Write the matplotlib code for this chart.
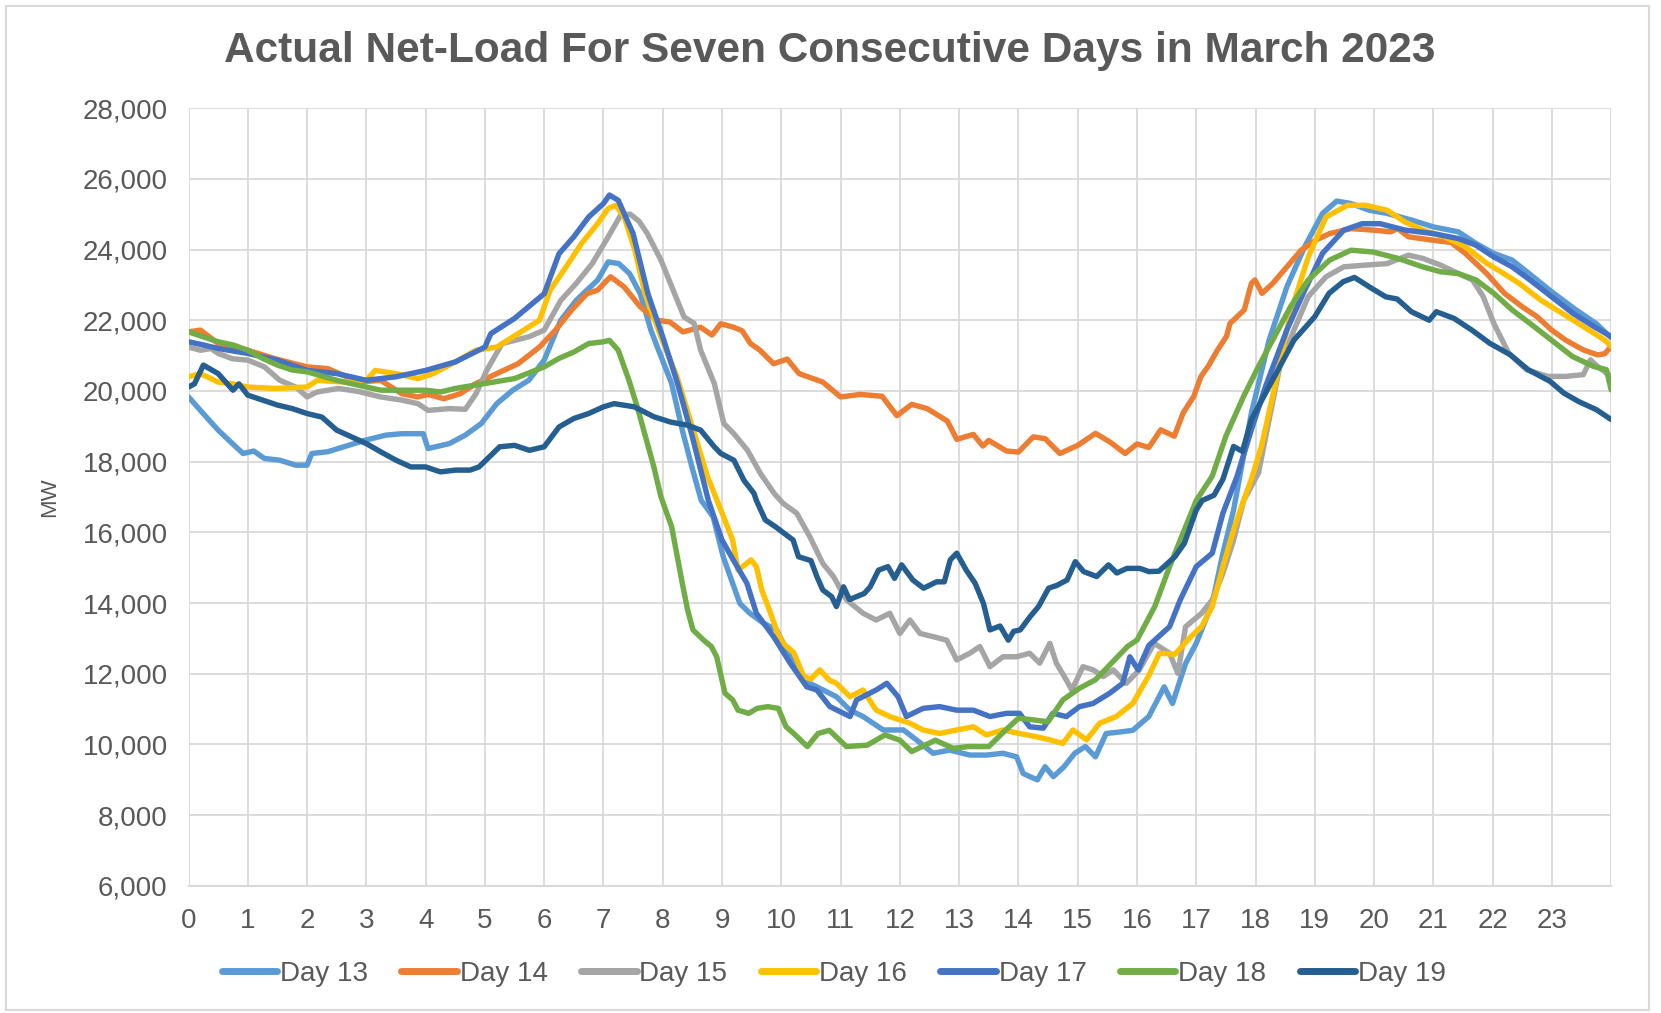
import matplotlib.pyplot as plt
from matplotlib.patches import Rectangle

# Net load readings (MW), hour of day -> MW
day13_hr = [0, 0.2, 0.5, 0.74, 0.92, 1.1, 1.28, 1.54, 1.81, 2.0, 2.08, 2.35, 2.62, 2.97, 3.33, 3.6, 3.96, 4.04,
            4.4, 4.67, 4.94, 5.2, 5.47, 5.74, 6.0, 6.28, 6.54, 6.72, 6.9, 7.08, 7.26, 7.44, 7.62, 7.8, 7.93,
            8.15, 8.33, 8.5, 8.65, 8.85, 9.02, 9.3, 9.47, 9.7, 9.92, 10.15, 10.37, 10.6, 10.93, 11.16, 11.38,
            11.72, 12.06, 12.28, 12.56, 12.84, 13.18, 13.46, 13.74, 13.97, 14.08, 14.18, 14.32, 14.45, 14.59,
            14.77, 14.95, 15.13, 15.3, 15.48, 15.7, 15.93, 16.2, 16.46, 16.6, 16.82, 17.0, 17.27, 17.45, 17.63,
            17.93, 18.23, 18.53, 18.83, 19.13, 19.37, 19.61, 19.92, 20.22, 20.64, 21.0, 21.42, 21.72, 22.02,
            22.33, 22.63, 23.0, 23.4, 23.75, 24.0]
day13_mw = [19830, 19450, 18890, 18510, 18230, 18300, 18090, 18040, 17900, 17900, 18230, 18280, 18420, 18600,
            18750, 18790, 18790, 18370, 18510, 18750, 19080, 19640, 20020, 20300, 20870, 22000, 22560, 22850,
            23130, 23650, 23600, 23320, 22750, 21720, 21150, 20210, 18890, 17800, 16900, 16440, 15310, 13990,
            13710, 13430, 13240, 12480, 11820, 11630, 11350, 10970, 10790, 10410, 10410, 10130, 9750, 9840,
            9700, 9700, 9750, 9650, 9180, 9100, 9000, 9370, 9090, 9370, 9750, 9940, 9650, 10310, 10350, 10400,
            10790, 11630, 11160, 12290, 12860, 13990, 15410, 16630, 19370, 21440, 22950, 24080, 25020, 25370,
            25300, 25110, 25020, 24830, 24640, 24500, 24170, 23890, 23700, 23300, 22800, 22300, 21900, 21500]

day14_hr = [0, 0.2, 0.5, 1.0, 1.46, 2.0, 2.35, 2.88, 3.24, 3.6, 3.87, 4.04, 4.31, 4.58, 4.85, 5.2, 5.56, 5.92,
            6.19, 6.46, 6.72, 6.9, 7.12, 7.35, 7.62, 7.9, 8.12, 8.34, 8.64, 8.83, 8.98, 9.2, 9.34, 9.48, 9.64,
            9.87, 10.1, 10.3, 10.7, 11.0, 11.33, 11.7, 11.95, 12.2, 12.46, 12.8, 12.96, 13.24, 13.4, 13.5, 13.8,
            14.0, 14.25, 14.45, 14.7, 15.0, 15.3, 15.55, 15.8, 16.0, 16.2, 16.4, 16.63, 16.78, 16.96, 17.08,
            17.2, 17.36, 17.51, 17.57, 17.81, 17.93, 17.99, 18.11, 18.29, 18.53, 18.77, 19.01, 19.25, 19.61,
            19.98, 20.28, 20.4, 20.58, 21.0, 21.3, 21.54, 21.9, 22.2, 22.5, 22.75, 22.99, 23.23, 23.53, 23.77,
            23.89, 24.0]
day14_mw = [21670, 21720, 21340, 21150, 20910, 20680, 20630, 20250, 20300, 19920, 19830, 19900, 19780, 19920,
            20210, 20490, 20770, 21240, 21720, 22280, 22750, 22850, 23230, 22940, 22380, 22000, 21950, 21670,
            21800, 21580, 21900, 21800, 21700, 21340, 21150, 20770, 20900, 20490, 20250, 19830, 19900, 19850,
            19300, 19620, 19500, 19150, 18630, 18770, 18440, 18600, 18300, 18270, 18700, 18650, 18230, 18460,
            18800, 18550, 18230, 18500, 18400, 18900, 18720, 19380, 19850, 20410, 20690, 21160, 21540, 21910,
            22290, 23040, 23140, 22760, 23040, 23510, 23980, 24260, 24450, 24590, 24550, 24500, 24590, 24360,
            24260, 24200, 23890, 23320, 22760, 22380, 22100, 21730, 21440, 21160, 21020, 21050, 21260]

day15_hr = [0, 0.2, 0.38, 0.5, 0.74, 1.0, 1.28, 1.54, 1.81, 2.0, 2.17, 2.53, 2.88, 3.24, 3.6, 3.87, 4.04, 4.4,
            4.67, 4.85, 5.03, 5.29, 5.74, 6.0, 6.28, 6.54, 6.81, 7.08, 7.29, 7.45, 7.6, 7.74, 7.97, 8.2, 8.36,
            8.53, 8.64, 8.87, 9.03, 9.2, 9.43, 9.65, 9.88, 10.03, 10.26, 10.48, 10.7, 10.88, 11.1, 11.38, 11.6,
            11.83, 12.0, 12.17, 12.34, 12.56, 12.79, 12.96, 13.18, 13.35, 13.52, 13.74, 13.97, 14.19, 14.36,
            14.53, 14.64, 14.81, 14.9, 15.09, 15.26, 15.43, 15.6, 15.82, 16.04, 16.29, 16.55, 16.69, 16.82,
            17.09, 17.27, 17.45, 17.63, 17.8, 18.05, 18.23, 18.41, 18.65, 18.89, 19.19, 19.49, 19.86, 20.22,
            20.58, 20.82, 21.12, 21.42, 21.66, 21.84, 22.02, 22.27, 22.57, 22.93, 23.23, 23.53, 23.65, 23.77,
            24.0]
day15_mw = [21240, 21150, 21200, 21060, 20910, 20870, 20680, 20300, 20110, 19830, 19970, 20070, 19980, 19830,
            19740, 19640, 19450, 19500, 19480, 19920, 20580, 21340, 21530, 21720, 22560, 23040, 23600, 24360,
            24970, 25000, 24800, 24450, 23700, 22750, 22090, 21910, 21150, 20210, 19080, 18790, 18320, 17660,
            17100, 16820, 16540, 15880, 15120, 14750, 14090, 13710, 13520, 13710, 13140, 13520, 13140, 13050,
            12950, 12390, 12580, 12770, 12200, 12480, 12480, 12580, 12300, 12860, 12300, 11820, 11540, 12200,
            12110, 11920, 12110, 11730, 12110, 12860, 12580, 12010, 13330, 13710, 14090, 14840, 15780, 16900,
            17680, 19190, 20690, 21730, 22670, 23230, 23510, 23560, 23600, 23840, 23750, 23560, 23320, 23140,
            22670, 21910, 21070, 20600, 20410, 20410, 20460, 20880, 20690, 20410]

day16_hr = [0, 0.2, 0.5, 0.74, 1.0, 1.46, 2.0, 2.17, 2.62, 3.0, 3.15, 3.5, 3.87, 4.13, 4.5, 4.85, 5.2, 5.56,
            5.92, 6.1, 6.37, 6.63, 6.9, 7.08, 7.21, 7.35, 7.53, 7.7, 7.97, 8.24, 8.5, 8.75, 9.04, 9.18, 9.27,
            9.4, 9.49, 9.58, 9.67, 9.8, 9.94, 10.03, 10.21, 10.38, 10.5, 10.65, 10.81, 10.93, 11.16, 11.38,
            11.6, 11.83, 12.17, 12.39, 12.67, 12.96, 13.24, 13.46, 13.74, 14.02, 14.3, 14.53, 14.75, 14.92,
            15.15, 15.37, 15.65, 15.93, 16.2, 16.38, 16.64, 16.91, 17.09, 17.27, 17.45, 17.63, 17.8, 17.93,
            18.1, 18.35, 18.59, 18.89, 19.19, 19.55, 19.86, 20.22, 20.52, 20.82, 21.18, 21.54, 21.9, 22.14,
            22.45, 22.81, 23.17, 23.53, 23.89, 24.0]
day16_mw = [20400, 20490, 20250, 20200, 20110, 20070, 20110, 20300, 20250, 20300, 20580, 20490, 20350, 20490,
            20820, 21150, 21240, 21620, 22000, 22850, 23510, 24170, 24730, 25160, 25250, 24920, 23980, 22750,
            21530, 20400, 18980, 17600, 16380, 15780, 14930, 15100, 15220, 15030, 14370, 13800, 13140, 12860,
            12600, 11920, 11850, 12110, 11820, 11730, 11350, 11540, 10970, 10790, 10600, 10410, 10310, 10410,
            10500, 10270, 10410, 10310, 10220, 10130, 10030, 10410, 10130, 10600, 10790, 11160, 11950, 12580,
            12550, 13050, 13330, 13900, 15030, 16070, 16900, 17500, 18430, 20310, 22200, 23790, 24920, 25250,
            25250, 25110, 24780, 24550, 24360, 24080, 23610, 23370, 23040, 22570, 22200, 21820, 21440, 21260]

day17_hr = [0, 0.25, 0.5, 1.0, 1.5, 2.0, 2.5, 3.0, 3.5, 4.0, 4.5, 5.0, 5.1, 5.5, 6.0, 6.25, 6.5, 6.75, 7.0,
            7.1, 7.25, 7.5, 7.75, 8.0, 8.25, 8.5, 8.77, 9.0, 9.19, 9.42, 9.58, 9.87, 10.15, 10.43, 10.6, 10.82,
            11.16, 11.27, 11.6, 11.78, 11.97, 12.11, 12.39, 12.67, 12.96, 13.24, 13.52, 13.8, 14.02, 14.19,
            14.42, 14.58, 14.81, 15.03, 15.26, 15.54, 15.76, 15.88, 16.02, 16.2, 16.55, 16.73, 17.0, 17.27,
            17.45, 17.69, 17.93, 18.17, 18.53, 18.83, 19.13, 19.49, 19.8, 20.1, 20.52, 21.0, 21.42, 21.72,
            22.02, 22.33, 22.63, 22.99, 23.35, 23.71, 24.0]
day17_mw = [21390, 21300, 21200, 21060, 20870, 20580, 20490, 20300, 20400, 20580, 20820, 21240, 21620, 22050,
            22750, 23880, 24360, 24920, 25300, 25540, 25390, 24450, 22750, 21530, 20210, 18700, 16900, 15780,
            15220, 14560, 13710, 13050, 12300, 11630, 11540, 11070, 10790, 11260, 11540, 11730, 11350, 10790,
            11020, 11070, 10970, 10970, 10790, 10880, 10880, 10500, 10460, 10880, 10790, 11070, 11160, 11450,
            11730, 12480, 12110, 12800, 13330, 14090, 15030, 15410, 16540, 17590, 18900, 20130, 21730, 22850,
            23890, 24550, 24730, 24730, 24550, 24450, 24310, 24120, 23790, 23510, 23140, 22670, 22200, 21820,
            21540]

day18_hr = [0, 0.25, 0.5, 0.75, 1.0, 1.25, 1.5, 1.75, 2.0, 2.5, 3.0, 3.25, 3.5, 4.0, 4.25, 4.5, 5.0, 5.5, 6.0,
            6.25, 6.5, 6.75, 7.0, 7.1, 7.25, 7.43, 7.57, 7.71, 7.85, 7.97, 8.15, 8.33, 8.42, 8.51, 8.69, 8.82,
            8.91, 9.05, 9.18, 9.27, 9.45, 9.59, 9.77, 9.95, 10.08, 10.21, 10.44, 10.62, 10.81, 11.1, 11.45,
            11.75, 12.0, 12.2, 12.6, 12.9, 13.15, 13.5, 13.78, 14.0, 14.23, 14.5, 14.75, 15.03, 15.3, 15.57,
            15.84, 16.0, 16.3, 16.55, 16.73, 17.0, 17.27, 17.5, 17.8, 18.05, 18.29, 18.59, 18.89, 19.25, 19.61,
            19.98, 20.4, 20.82, 21.12, 21.42, 21.72, 22.02, 22.33, 22.63, 22.99, 23.35, 23.71, 23.92, 24.0]
day18_mw = [21670, 21530, 21390, 21300, 21150, 20920, 20730, 20590, 20540, 20300, 20110, 20020, 20020, 20020,
            19970, 20070, 20210, 20350, 20680, 20920, 21100, 21340, 21390, 21430, 21150, 20300, 19550, 18700,
            17850, 17000, 16160, 14560, 13800, 13240, 12950, 12770, 12480, 11450, 11260, 10970, 10880, 11020,
            11070, 11020, 10500, 10310, 9940, 10310, 10400, 9940, 9980, 10270, 10120, 9800, 10120, 9890, 9940,
            9940, 10400, 10740, 10700, 10640, 11260, 11590, 11830, 12300, 12770, 12950, 13900, 15030, 15780,
            16900, 17590, 18720, 19850, 20690, 21440, 22380, 23140, 23700, 23980, 23930, 23750, 23510, 23370,
            23320, 23140, 22760, 22290, 21910, 21440, 20970, 20690, 20600, 20030]

day19_hr = [0, 0.1, 0.25, 0.5, 0.75, 0.85, 1.0, 1.25, 1.5, 1.75, 2.0, 2.25, 2.5, 2.75, 3.0, 3.25, 3.5, 3.75,
            4.0, 4.25, 4.5, 4.75, 4.9, 5.25, 5.5, 5.75, 6.0, 6.25, 6.5, 6.75, 7.0, 7.18, 7.52, 7.85, 8.13, 8.42,
            8.64, 8.87, 8.98, 9.2, 9.37, 9.54, 9.58, 9.73, 9.9, 10.2, 10.29, 10.5, 10.6, 10.7, 10.85, 10.93,
            11.05, 11.15, 11.4, 11.5, 11.64, 11.8, 11.91, 12.03, 12.22, 12.4, 12.62, 12.75, 12.85, 12.96, 13.12,
            13.27, 13.41, 13.52, 13.69, 13.83, 13.92, 14.03, 14.2, 14.34, 14.51, 14.65, 14.82, 14.96, 15.1,
            15.32, 15.52, 15.66, 15.83, 16.05, 16.2, 16.37, 16.64, 16.8, 17.0, 17.1, 17.3, 17.45, 17.63, 17.78,
            17.93, 18.17, 18.41, 18.65, 19.0, 19.24, 19.48, 19.67, 19.96, 20.2, 20.39, 20.63, 20.93, 21.05,
            21.35, 21.65, 21.95, 22.3, 22.6, 22.97, 23.2, 23.45, 23.75, 24.0]
day19_mw = [20110, 20200, 20730, 20490, 20020, 20200, 19880, 19740, 19600, 19500, 19360, 19260, 18890, 18700,
            18510, 18270, 18040, 17850, 17850, 17710, 17760, 17760, 17850, 18420, 18460, 18320, 18420, 18980,
            19220, 19360, 19550, 19640, 19550, 19270, 19120, 19030, 18890, 18420, 18230, 18040, 17470, 17100,
            16900, 16350, 16160, 15780, 15310, 15200, 14750, 14370, 14180, 13900, 14460, 14100, 14270, 14460,
            14930, 15030, 14700, 15080, 14650, 14420, 14600, 14600, 15220, 15410, 14930, 14560, 13990, 13240,
            13350, 12950, 13200, 13240, 13620, 13900, 14420, 14500, 14650, 15170, 14890, 14750, 15080, 14850,
            14980, 14980, 14890, 14900, 15310, 15690, 16630, 16900, 17050, 17500, 18430, 18290, 19190, 19940,
            20690, 21440, 22100, 22760, 23090, 23210, 22900, 22660, 22600, 22240, 22000, 22240, 22050, 21720,
            21350, 21020, 20600, 20270, 19940, 19700, 19470, 19190]

labels = ['Day 13', 'Day 14', 'Day 15', 'Day 16', 'Day 17', 'Day 18', 'Day 19']
colors = ['#5B9BD5', '#ED7D31', '#A5A5A5', '#FFC000', '#4472C4', '#70AD47', '#255E91']
hours = [day13_hr, day14_hr, day15_hr, day16_hr, day17_hr, day18_hr, day19_hr]
loads = [day13_mw, day14_mw, day15_mw, day16_mw, day17_mw, day18_mw, day19_mw]

text_color = '#595959'
grid_color = '#D9D9D9'

plt.rcParams['font.family'] = ['Liberation Sans', 'DejaVu Sans']

fig = plt.figure(figsize=(16.61, 10.13), dpi=100)
ax = fig.add_axes([0.1135, 0.1255, 0.8565, 0.7678])

for hr, mw, lab, col in zip(hours, loads, labels, colors):
    ax.plot(hr, mw, color=col, linewidth=3.9, label=lab, solid_joinstyle='round', solid_capstyle='round')

ax.set_xlim(0, 24)
ax.set_ylim(6000, 28000)
ax.set_xticks(range(25))
ax.set_xticklabels([str(h) for h in range(24)] + [''])
ax.set_yticks(range(6000, 28001, 2000))
ax.set_yticklabels([f'{v:,}' for v in range(6000, 28001, 2000)])
ax.tick_params(axis='both', length=0, labelsize=20, labelcolor=text_color)
ax.tick_params(axis='y', pad=15)
ax.tick_params(axis='x', pad=16)
ax.grid(True, color=grid_color, linewidth=1.3)
ax.set_axisbelow(True)
for side in ['top', 'right', 'left']:
    ax.spines[side].set_visible(False)
ax.spines['bottom'].set_color(grid_color)
ax.spines['bottom'].set_linewidth(1.5)

ax.set_ylabel('MW', fontsize=16, color=text_color, labelpad=16)
fig.text(0.4994, 0.95, 'Actual Net-Load For Seven Consecutive Days in March 2023',
         ha='center', va='center', fontsize=30.5, fontweight='bold', color=text_color)

leg = fig.legend(loc='center', bbox_to_anchor=(0.502, 0.0387), ncol=7, frameon=False,
                 fontsize=20, handlelength=2.0, handletextpad=0.1, columnspacing=1.2, labelcolor=text_color)
for line in leg.get_lines():
    line.set_linewidth(5)

fig.patches.append(Rectangle((0.0038, 0.003), 0.9892, 0.9907, transform=fig.transFigure,
                             fill=False, edgecolor=grid_color, linewidth=1.5))

fig.savefig('out.png', dpi=100)
